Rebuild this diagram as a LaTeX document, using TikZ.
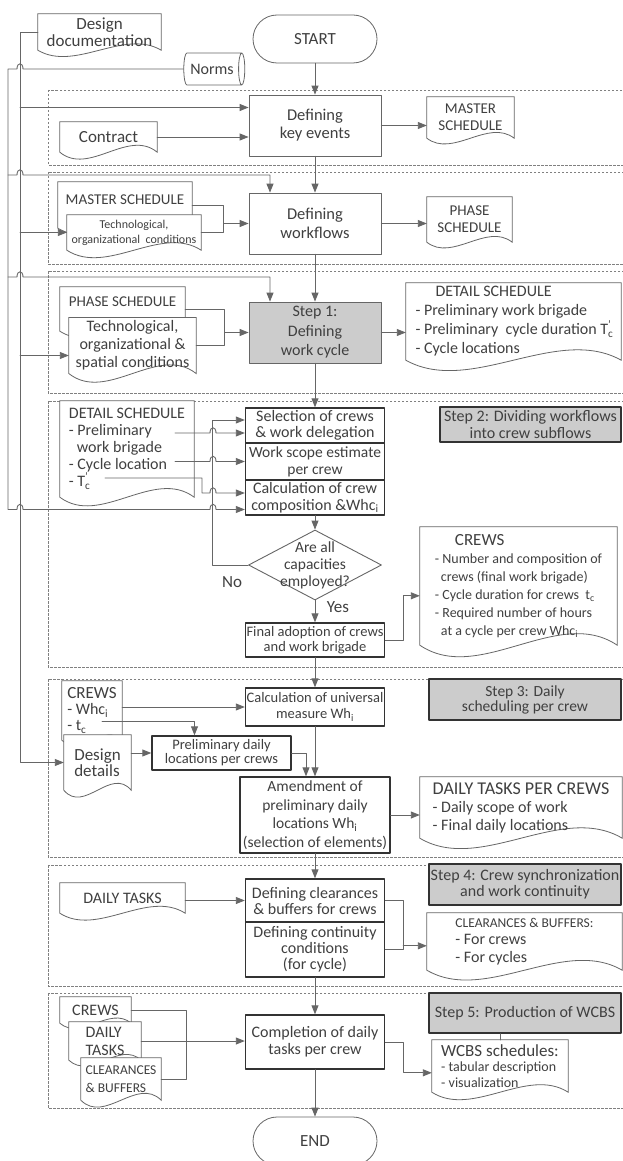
\documentclass[tikz,border=0pt]{standalone}
\usepackage{fontspec}
\setmainfont{Carlito}
\usepackage{tikz}
\usetikzlibrary{calc}
\usetikzlibrary{arrows.meta}
\usetikzlibrary{shapes.geometric}
\definecolor{wqwqwq}{rgb}{0.4,0.4,0.4}
\definecolor{sqsqsq}{rgb}{0.25,0.25,0.25}
\definecolor{zzzzzz}{rgb}{0.2,0.2,0.2}
\definecolor{cccccc}{rgb}{0.8,0.8,0.8}
\pgfdeclarelayer{bg}
\pgfsetlayers{bg,main}
\newcommand{\fsz}[2]{\fontsize{#1}{#2}\selectfont}
\newcommand{\hopr}[2]{-- ({#1-3},#2) .. controls ({#1-3},{#2-7}) and ({#1+3},{#2-7}) .. ({#1+3},#2)}
\newcommand{\hopl}[2]{-- ({#1+3},#2) .. controls ({#1+3},{#2-7}) and ({#1-3},{#2-7}) .. ({#1-3},#2)}
\newcommand{\docwave}[2]{\filldraw[docline] (#1.south west) -- (#1.north west) -- (#1.north east) -- (#1.south east) .. controls ($(#1.south east)!0.3!(#1.south west)+(0,-#2)$) and ($(#1.south west)!0.3!(#1.south east)+(0,#2)$) .. (#1.south west) -- cycle;}
\tikzstyle{every node}=[text=sqsqsq]
\tikzstyle{procthin}=[rectangle,draw=wqwqwq,line width=0.8pt,fill=white,align=center,inner sep=1pt]
\tikzstyle{procbox}=[rectangle,draw=zzzzzz,line width=1.4pt,fill=white,align=center,inner sep=1pt]
\tikzstyle{stepbox}=[rectangle,draw=zzzzzz,line width=1.6pt,fill=cccccc,align=center,inner sep=1pt]
\tikzstyle{docnode}=[rectangle,inner sep=3pt,align=left]
\tikzstyle{docline}=[draw=wqwqwq,line width=0.8pt,fill=white]
\tikzstyle{termnode}=[rectangle,rounded corners=24pt,draw=wqwqwq,line width=0.8pt]
\tikzstyle{area}=[draw=gray,line width=0.6pt,dash pattern=on 2.5pt off 1.5pt]
\tikzstyle{conn}=[draw=wqwqwq,line width=0.9pt]

\begin{document}
\begin{tikzpicture}[line cap=round,line join=round,>={Triangle[length=9pt,width=7pt]},x=1pt,y=-1pt]
\useasboundingbox (0,0) rectangle (622,1161);
\clip (0,0) rectangle (622,1161);
\begin{pgfonlayer}{bg}
\fill[white] (0,0) rectangle (622,1161);
\foreach \ya/\yb in {90/165,172/264,271/393,401/667,679/857,865/986,993/1108}
  \draw[area] (48,\ya) rectangle (640,\yb);
\end{pgfonlayer}

\node[termnode,minimum width=124pt,minimum height=48pt,font=\fsz{17}{18}] (start) at (315,39) {START};
\node[cylinder,draw=wqwqwq,line width=0.8pt,aspect=0.5,minimum width=32pt,minimum height=61pt,inner sep=1pt,font=\fsz{16}{17}] (norms) at (212,69) {Norms};
\node[docnode,minimum width=123pt,minimum height=36pt,align=center,font=\fsz{17}{17}] (desdoc) at (99.5,32) {Design\\documentation};

\node[procthin,minimum width=132pt,minimum height=61pt,font=\fsz{16.5}{18}] (keyev) at (315,125.5) {Defining\\key events};
\node[docnode,minimum width=97pt,minimum height=30pt,font=\fsz{17}{18}] (contract) at (108.5,137) {Contract};
\node[docnode,minimum width=87pt,minimum height=41pt,align=center,font=\fsz{15}{17}] (master1) at (470.5,117.5) {MASTER\\SCHEDULE};

\node[docnode,minimum width=134pt,minimum height=46pt,text depth=10pt,font=\fsz{15}{16}] (master2) at (125,205) {MASTER SCHEDULE};
\node[docnode,minimum width=134pt,minimum height=35pt,align=center,font=\fsz{12}{15}] (techA) at (134,232.5) {Technological,\\organizational\ \ conditions};
\node[procthin,minimum width=132pt,minimum height=61pt,font=\fsz{16.5}{19}] (flows) at (315,223.5) {Defining\\workflows};
\node[docnode,minimum width=85pt,minimum height=45pt,align=center,font=\fsz{15}{17}] (phase1) at (469.5,219.5) {PHASE\\SCHEDULE};

\node[docnode,minimum width=125pt,minimum height=44pt,text depth=14pt,font=\fsz{15}{16}] (phase2) at (122.5,309) {PHASE SCHEDULE};
\node[docnode,minimum width=127pt,minimum height=53pt,align=center,font=\fsz{16}{18}] (techB) at (132.5,345.5) {Technological,\\organizational \&\\spatial conditions};
\node[procthin,fill=cccccc,minimum width=132pt,minimum height=61pt,font=\fsz{16}{19.5}] (step1) at (315,332.5) {Step 1:\\Defining\\work cycle};
\node[docnode,minimum width=215pt,minimum height=77pt,font=\fsz{16}{19}] (detailout) at (513.5,321.5) {\hspace*{20pt}DETAIL SCHEDULE\\- Preliminary work brigade\\- Preliminary\ \ cycle duration T\rlap{\textsubscript{c}}\textsuperscript{\textquoteright}\\- Cycle locations};

\node[docnode,minimum width=134pt,minimum height=96pt,font=\fsz{16}{17}] (detailin) at (127,449) {DETAIL SCHEDULE\\- Preliminary\\\hspace*{8pt}work brigade\\- Cycle location\\- T\rlap{\textsubscript{c}}\textsuperscript{\textquoteright}};
\node[procbox,minimum width=139pt,minimum height=35pt,font=\fsz{16}{15.5}] (sel) at (315,425.5) {Selection of crews\\\& work delegation};
\node[procbox,minimum width=139pt,minimum height=37pt,font=\fsz{15.5}{17}] (scope) at (315,461.5) {Work scope estimate\\per crew};
\node[procbox,minimum width=139pt,minimum height=35pt,font=\fsz{16}{17}] (crewcalc) at (315,497.5) {Calculation of crew\\composition \&Whc\textsubscript{i}};
\node[stepbox,minimum width=181pt,minimum height=35pt,font=\fsz{16}{17}] (step2) at (530.5,424.5) {Step 2: Dividing workflows\\into crew subflows};
\node[diamond,draw=wqwqwq,line width=0.9pt,minimum width=133pt,minimum height=70pt,inner sep=0pt,label={[name=captxt,align=center,font=\fsz{15.5}{17}]center:{Are all\\capacities\\employed?}}] (cap) at (315,565) {};
\node[font=\fsz{17}{17}] (nolbl) at (232,582) {No};
\node[font=\fsz{17}{17}] (yeslbl) at (338,607) {Yes};
\node[procbox,minimum width=139pt,minimum height=34pt,font=\fsz{14.5}{15}] (final) at (315,640) {Final adoption of crews\\and work brigade};
\node[docnode,minimum width=197pt,minimum height=118pt,font=\fsz{14}{18}] (crewsout) at (518.5,586) {\hspace*{20pt}{\fsz{17}{18}CREWS}\\- Number and composition of\\\hspace*{6pt}crews (final work brigade)\\- Cycle duration for crews\ \ t\textsubscript{c}\\- Required number of hours\\\hspace*{6pt}at a cycle per crew Whc\textsubscript{i}};

\node[docnode,minimum width=60pt,minimum height=59pt,font=\fsz{16}{16}] (crews2) at (92,710.5) {{\fsz{17}{16}CREWS}\\- Whc\textsubscript{i}\\- t\textsubscript{c}};
\node[docnode,minimum width=67pt,minimum height=55pt,font=\fsz{17}{16}] (ddet) at (97.5,762.5) {Design\\details};
\node[procbox,minimum width=139pt,minimum height=38pt,font=\fsz{14.5}{16}] (ucalc) at (315,707) {Calculation of universal\\measure Wh\textsubscript{i}};
\node[stepbox,minimum width=192pt,minimum height=41pt,font=\fsz{15.5}{15}] (step3) at (525,699.5) {Step 3: Daily\\scheduling per crew};
\node[procbox,minimum width=139pt,minimum height=34pt,font=\fsz{14.5}{14}] (prelim) at (221.5,753) {Preliminary daily\\locations per crews};
\node[procbox,minimum width=150pt,minimum height=76pt,font=\fsz{15.5}{18.5}] (amend) at (315,815) {Amendment of\\preliminary daily\\locations Wh\textsubscript{i}\\(selection of elements)};
\node[docnode,minimum width=202pt,minimum height=61pt,font=\fsz{16}{18}] (dailyout) at (521,807.5) {{\fsz{18}{18}DAILY TASKS PER CREWS}\\- Daily scope of work\\- Final daily locations};

\node[docnode,minimum width=125pt,minimum height=30pt,font=\fsz{16}{17}] (dailyin) at (122.5,898) {DAILY TASKS};
\node[procbox,minimum width=139pt,minimum height=43pt,font=\fsz{16}{16}] (clear) at (315,900.5) {Defining clearances\\\& buffers for crews};
\node[procbox,minimum width=139pt,minimum height=55pt,font=\fsz{16}{16}] (cont) at (315,949.5) {Defining continuity\\conditions\\(for cycle)};
\node[stepbox,minimum width=192pt,minimum height=41pt,font=\fsz{16}{16}] (step4) at (525,884.5) {Step 4: Crew synchronization\\and work continuity};
\node[docnode,minimum width=195pt,minimum height=57pt,font=\fsz{16}{17.5}] (clearout) at (524.5,941.5) {{\fsz{13.5}{14}CLEARANCES \& BUFFERS:}\\- For crews\\- For cycles};

\node[docnode,minimum width=71pt,minimum height=26pt,font=\fsz{16}{16}] (crews3) at (95.5,1010) {CREWS};
\node[docnode,minimum width=72pt,minimum height=38pt,font=\fsz{16}{18}] (dtasks) at (105,1041) {DAILY\\TASKS};
\node[docnode,minimum width=80pt,minimum height=42pt,font=\fsz{13.5}{18}] (clearb) at (121,1079) {CLEARANCES\\\& BUFFERS};
\node[procbox,minimum width=139pt,minimum height=54pt,font=\fsz{16}{17}] (compl) at (315,1042) {Completion of daily\\tasks per crew};
\node[stepbox,minimum width=192pt,minimum height=40pt,font=\fsz{16}{16}] (step5) at (525,1013) {Step 5: Production of WCBS};
\node[docnode,minimum width=136pt,minimum height=52pt,font=\fsz{14}{15.5}] (wcbs) at (500,1066) {{\fsz{17}{17}WCBS schedules:}\\- tabular description\\- visualization};
\node[termnode,minimum width=124pt,minimum height=48pt,font=\fsz{17}{18}] (finish) at (315,1141) {END};

\begin{pgfonlayer}{bg}
\docwave{desdoc}{22}
\docwave{contract}{24}
\docwave{master1}{20}
\docwave{master2}{24}
\docwave{techA}{26}
\docwave{phase1}{20}
\docwave{phase2}{24}
\docwave{techB}{30}
\docwave{detailout}{36}
\docwave{detailin}{30}
\docwave{crewsout}{40}
\docwave{crews2}{18}
\docwave{ddet}{24}
\docwave{dailyout}{36}
\docwave{dailyin}{24}
\docwave{clearout}{34}
\docwave{crews3}{18}
\docwave{dtasks}{20}
\docwave{clearb}{24}
\docwave{wcbs}{26}
\end{pgfonlayer}

\coordinate (busO) at (8,0);
\coordinate (busI) at (20,0);
\coordinate (cin2) at ($(crewcalc.west)+(0,12)$);
\draw[conn,->] (norms.west) \hopl{20}{69} -- (busO |- norms.west) -- (busO |- cin2) \hopr{20}{509.5} \hopr{213}{509.5} -- (cin2);
\draw[conn,->] (8,175) \hopr{20}{175} -- (270,175) -- ($(flows.north)+(-45,0)$);
\draw[conn,->] (8,277) \hopr{20}{277} -- (270,277) -- ($(step1.north)+(-45,0)$);

\coordinate (kin) at ($(keyev.west)+(0,-18)$);
\coordinate (tbin) at ($(techB.west)+(0,10)$);
\draw[conn,->] (desdoc.west) -- (desdoc.west -| busI) -- (busI |- ddet.west) -- (ddet.west);
\draw[conn,->] (kin -| busI) -- (kin);
\draw[conn,->] (techA.west -| busI) -- (techA.west);
\draw[conn,->] (tbin -| busI) -- (tbin);

\draw[conn,->] (start) -- (keyev);
\draw[conn,->] (keyev) -- (flows);
\draw[conn,->] (flows) -- (step1);
\draw[conn,->] (step1) -- (sel);
\draw[conn,->] (crewcalc) -- (cap);
\draw[conn,->] (cap) -- (final);
\draw[conn,->] (final) -- (ucalc);
\draw[conn,->] (ucalc) -- (amend);
\draw[conn,->] (amend) -- (clear);
\draw[conn,->] (cont) -- (compl);
\draw[conn,->] (compl) -- (finish);

\draw[conn,->] (keyev.east) -- (keyev.east -| master1.west);
\draw[conn,->] (contract.east) -- (contract.east -| keyev.west);
\draw[conn,->] (flows.east) -- (flows.east -| phase1.west);
\draw[conn,->] (step1.east) -- (step1.east -| detailout.west);
\draw[conn,->] (amend.east) -- (amend.east -| dailyout.west);

\coordinate (jA) at ($(flows.west)+(-25,0)$);
\draw[conn] (master2.east) -| (jA) |- (techA.east);
\draw[conn,->] (jA) -- (flows.west);
\coordinate (jB) at ($(step1.west)+(-24,0)$);
\draw[conn] (phase2.east) -| (jB) |- (techB.east);
\draw[conn,->] (jB) -- (step1.west);

\coordinate (jN) at ($(cap.west)+(-35.5,0)$);
\coordinate (sin1) at ($(sel.west)+(0,-5.5)$);
\coordinate (sin2) at ($(sel.west)+(0,7.5)$);
\coordinate (cin1) at ($(crewcalc.west)+(0,-4.5)$);
\coordinate (pre) at (175,433);
\coordinate (cyc) at (175,461.5);
\coordinate (tcl) at (105,478);
\draw[conn,->] (cap.west) -- (jN) -- (jN |- sin1) -- (sin1);
\draw[conn,->] (pre) \hopr{213}{433} -- (sin2);
\draw[conn,->] (cyc) \hopr{213}{461.5} -- (scope.west);
\draw[conn,->] (tcl) -- ++(97,0) -- ++(0,15) \hopr{213}{493} -- (cin1);
\coordinate (crin) at ($(crewsout.north west)+(0,69)$);
\draw[conn,->] (final.east) -- ++(18,0) |- (crin);

\coordinate (tcr) at (102,721);
\draw[conn,->] (crews2.east |- ucalc.west) -- (ucalc.west);
\draw[conn,->] (tcr) -| ($(prelim.north)+(-27,0)$);
\draw[conn,->] (ddet.east |- prelim.west) -- (prelim.west);
\draw[conn,->] (prelim.east) -| ($(amend.north)+(-9,0)$);

\coordinate (clin) at ($(clearout.north west)+(0,33)$);
\draw[conn,->] (dailyin.east |- clear.west) -- (clear.west);
\draw[conn] (clear.east) -- ++(18,0) coordinate (jC) |- (cont.east);
\draw[conn,->] (jC |- clin) -- (clin);

\coordinate (wcin) at ($(wcbs.north west)+(0,33)$);
\draw[conn] (crews3.east) -- ++(55,0) coordinate (jD) |- (clearb.east);
\draw[conn,->] (dtasks.east) -- (dtasks.east -| compl.west);
\draw[conn,->] (compl.east) -- ++(18,0) |- (wcin);
\draw[conn] (step5.south -| wcbs.north) -- (wcbs.north);
\end{tikzpicture}
\end{document}
